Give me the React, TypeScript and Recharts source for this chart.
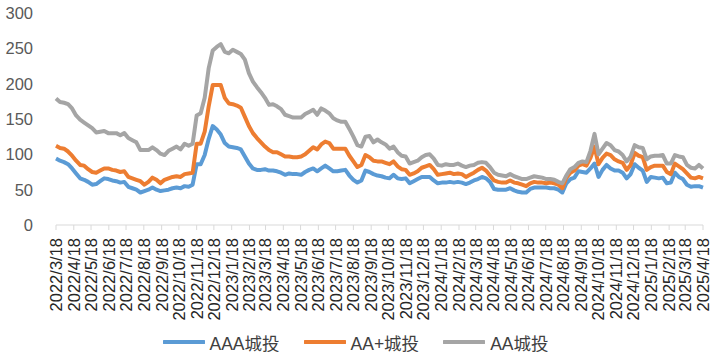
import { LineChart, Line, XAxis, YAxis, Legend } from "recharts";

const FONT = '"Liberation Sans", "Noto Sans CJK SC", sans-serif';
const WEEK = 7 * 24 * 3600 * 1000;
const startDate = Date.UTC(2022, 2, 18);

const tickLabels = [
  "2022/3/18", "2022/4/18", "2022/5/18", "2022/6/18", "2022/7/18", "2022/8/18",
  "2022/9/18", "2022/10/18", "2022/11/18", "2022/12/18", "2023/1/18", "2023/2/18",
  "2023/3/18", "2023/4/18", "2023/5/18", "2023/6/18", "2023/7/18", "2023/8/18",
  "2023/9/18", "2023/10/18", "2023/11/18", "2023/12/18", "2024/1/18", "2024/2/18",
  "2024/3/18", "2024/4/18", "2024/5/18", "2024/6/18", "2024/7/18", "2024/8/18",
  "2024/9/18", "2024/10/18", "2024/11/18", "2024/12/18", "2025/1/18", "2025/2/18",
  "2025/3/18", "2025/4/18",
];

// AAA城投, weekly
const aaa = [
  94, 91, 89, 86, 80, 73, 66, 64, 61, 57,
  58, 62, 66, 65, 63, 62, 60, 61, 54, 52,
  50, 46, 48, 50, 53, 50, 48, 49, 50, 52,
  53, 52, 55, 54, 57, 86, 86, 99, 122, 140,
  135, 128, 116, 111, 110, 109, 107, 97, 87, 80,
  78, 78, 79, 77, 77, 76, 74, 71, 73, 72,
  72, 71, 75, 78, 80, 76, 80, 84, 80, 76,
  76, 77, 78, 70, 64, 60, 63, 77, 75, 72,
  70, 69, 67, 66, 71, 66, 65, 66, 59, 62,
  65, 68, 68, 68, 63, 59, 60, 60, 61, 60,
  61, 60, 58, 60, 63, 65, 68, 66, 61, 51,
  50, 50, 50, 52, 49, 47, 46, 46, 51, 53,
  53, 53, 53, 52, 52, 50, 46, 59, 65, 67,
  76, 75, 74, 80, 87, 68, 78, 85, 80, 77,
  77, 74, 66, 72, 86, 81, 77, 61, 68, 67,
  66, 67, 59, 60, 74, 68, 65, 57, 54, 55,
  55, 53,
];

// AA+城投
const aaPlus = [
  112, 109, 108, 104, 98, 91, 85, 84, 79, 75,
  74, 77, 80, 80, 78, 77, 75, 76, 68, 66,
  64, 62, 57, 61, 67, 64, 59, 64, 66, 68,
  69, 68, 72, 73, 74, 115, 115, 132, 168, 198,
  198, 198, 180, 172, 171, 169, 166, 153, 140, 130,
  123, 117, 111, 106, 103, 103, 100, 97, 97, 96,
  96, 97, 100, 105, 110, 107, 114, 118, 116, 108,
  108, 108, 108, 98, 90, 82, 85, 99, 96, 91,
  90, 90, 88, 86, 90, 83, 79, 78, 71, 73,
  76, 81, 83, 85, 79, 71, 72, 73, 74, 72,
  73, 72, 68, 71, 74, 78, 81, 77, 70, 63,
  61, 60, 60, 63, 60, 59, 57, 55, 59, 61,
  60, 60, 59, 60, 59, 57, 52, 67, 74, 77,
  84, 86, 84, 95, 111, 86, 95, 101, 99, 93,
  90, 88, 78, 85, 102, 98, 96, 78, 82, 84,
  84, 84, 75, 72, 87, 83, 79, 73, 67, 66,
  68, 66,
];

// AA城投
const aa = [
  179, 174, 173, 171, 165, 155, 149, 145, 141, 137,
  131, 132, 133, 130, 130, 130, 127, 130, 123, 120,
  117, 106, 106, 106, 110, 106, 101, 99, 105, 108,
  111, 107, 115, 112, 115, 155, 158, 180, 222, 247,
  252, 256, 245, 243, 248, 245, 242, 234, 215, 203,
  195, 188, 180, 170, 171, 168, 164, 156, 154, 152,
  152, 152, 157, 160, 163, 156, 165, 162, 158, 151,
  148, 146, 146, 136, 125, 113, 111, 125, 126, 117,
  121, 117, 114, 108, 111, 103, 98, 97, 87, 89,
  91, 96, 99, 100, 94, 85, 84, 86, 85, 85,
  87, 84, 82, 84, 85, 88, 89, 88, 82, 74,
  71, 70, 69, 72, 69, 67, 65, 65, 67, 69,
  68, 67, 65, 65, 64, 61, 59, 70, 79, 82,
  88, 90, 89, 105, 129, 100, 108, 116, 113, 106,
  104, 99, 90, 97, 113, 110, 109, 93, 97, 98,
  98, 99, 87, 87, 99, 97, 96, 85, 81, 80,
  85, 80,
];

const yTicks = [0, 50, 100, 150, 200, 250, 300];

const series = [
  { key: "aaa", name: "AAA城投", color: "#5B9BD5" },
  { key: "aaPlus", name: "AA+城投", color: "#ED7D31" },
  { key: "aa", name: "AA城投", color: "#A5A5A5" },
];

const toTime = (s: string) => {
  const [y, m, d] = s.split("/").map(Number);
  return Date.UTC(y, m - 1, d);
};

const xTicks = tickLabels.map(toTime);

const fmt = (t: number) => {
  const d = new Date(t);
  return `${d.getUTCFullYear()}/${d.getUTCMonth() + 1}/${d.getUTCDate()}`;
};

const data = aaa.map((v, i) => ({
  t: startDate + i * WEEK,
  aaa: v,
  aaPlus: aaPlus[i],
  aa: aa[i],
}));

const DateTick = (props: any) => {
  const { x, y, payload } = props;
  return (
    <text
      x={x}
      y={y}
      transform={`rotate(-90 ${x} ${y})`}
      textAnchor="end"
      dy="0.36em"
      fontSize={16.5}
      fontFamily={FONT}
      fill="#262626"
    >
      {fmt(payload.value)}
    </text>
  );
};

const LegendBox = () => (
  <div
    style={{
      display: "flex",
      justifyContent: "center",
      alignItems: "center",
      height: 30,
      paddingTop: 4,
      paddingLeft: 8,
      boxSizing: "border-box",
      fontFamily: FONT,
      fontSize: 17.5,
      color: "#404040",
    }}
  >
    {series.map((s) => (
      <div
        key={s.key}
        style={{ display: "flex", alignItems: "center", margin: "0 12px" }}
      >
        <svg width={42} height={8} style={{ marginRight: 5 }}>
          <line
            x1={1}
            y1={4}
            x2={41}
            y2={4}
            stroke={s.color}
            strokeWidth={4}
            strokeLinecap="round"
          />
        </svg>
        <span>{s.name}</span>
      </div>
    ))}
  </div>
);

export default function App() {
  return (
    <div style={{ position: "absolute", left: 0, top: 0, background: "#fff" }}>
      <LineChart
        width={719}
        height={355}
        data={data}
        margin={{ top: 13, right: 16, bottom: 0, left: 0 }}
      >
        <XAxis
          dataKey="t"
          type="number"
          domain={[xTicks[0], xTicks[xTicks.length - 1]]}
          ticks={xTicks}
          interval={0}
          height={100}
          stroke="#D9D9D9"
          tickSize={5}
          tickMargin={8}
          tick={<DateTick />}
        />
        <YAxis
          domain={[0, 300]}
          ticks={yTicks}
          width={56}
          axisLine={false}
          tickLine={false}
          tickSize={0}
          tickMargin={23}
          tick={{ fontSize: 16.5, fontFamily: FONT, fill: "#595959" }}
        />
        <Legend verticalAlign="bottom" height={30} content={() => <LegendBox />} />
        {series.map((s) => (
          <Line
            key={s.key}
            type="linear"
            dataKey={s.key}
            name={s.name}
            stroke={s.color}
            strokeWidth={4}
            strokeLinejoin="round"
            dot={false}
            isAnimationActive={false}
          />
        ))}
      </LineChart>
    </div>
  );
}
